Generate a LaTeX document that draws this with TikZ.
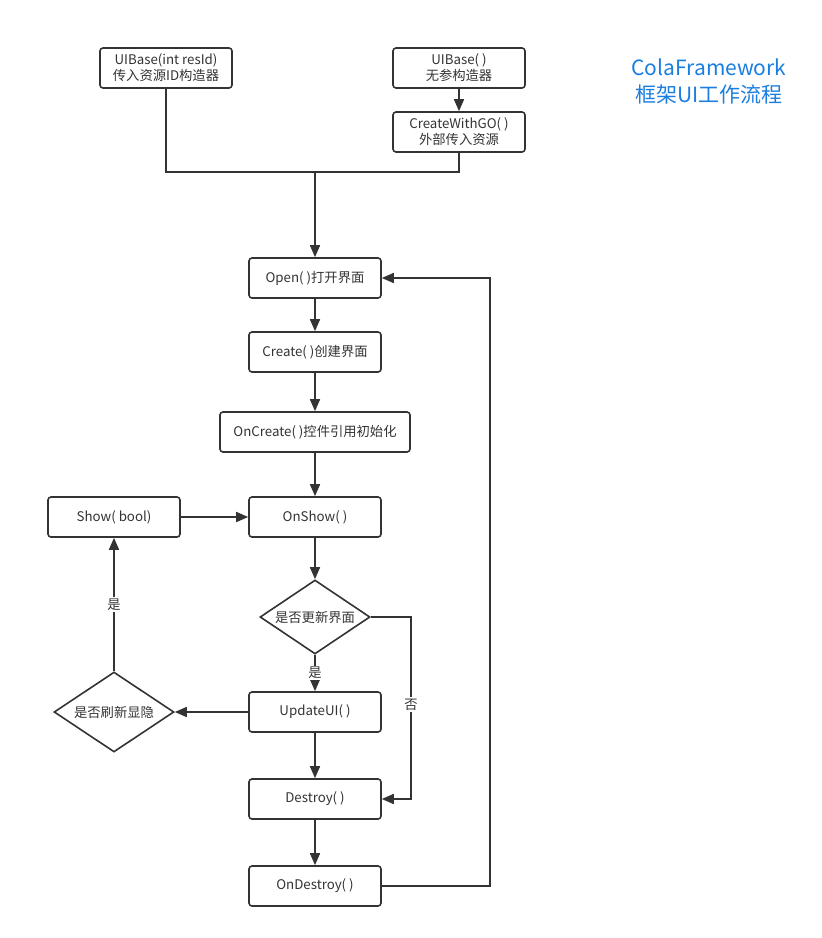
\documentclass[tikz,border=0pt]{standalone}
\usepackage{fontspec}
\setmainfont{Noto Sans CJK SC}
\usetikzlibrary{shapes.geometric,arrows.meta}
\definecolor{ln}{HTML}{333333}
\definecolor{titleblue}{HTML}{1A7EE0}
\tikzset{
  box/.style={draw=ln, line width=1.6pt, rounded corners=3pt, minimum width=132pt, minimum height=40pt, inner sep=0pt, align=center, font=\fontsize{13.3}{16}\selectfont, text=ln},
  choice/.style={draw=ln, line width=1.6pt, diamond, aspect=1.5, inner sep=0pt, font=\fontsize{13.3}{16}\selectfont, text=ln},
  flow/.style={draw=ln, line width=1.6pt, -{Triangle[length=12pt,width=10pt]}},
  wire/.style={draw=ln, line width=1.6pt},
  tag/.style={fill=white, inner sep=1.5pt, font=\fontsize{13.3}{16}\selectfont, text=ln}
}
\begin{document}
\begin{tikzpicture}[x=1pt,y=-1pt]
\useasboundingbox (0,0) rectangle (822,938);
% constructors
\node[box] (base) at (166,68) {UIBase(int resId)\\传入资源ID构造器};
\node[box] (empty) at (459,68) {UIBase( )\\无参构造器};
\node[box] (withgo) at (459,132) {CreateWithGO( )\\外部传入资源};
\coordinate (join) at (315,172);
% main flow
\node[box] (open) at (315,278) {Open( )打开界面};
\node[box] (create) at (315,352) {Create( )创建界面};
\node[box, minimum width=190pt] (oncreate) at (315,432) {OnCreate( )控件引用初始化};
\node[box] (onshow) at (315,517) {OnShow( )};
\node[box] (show) at (114,517) {Show( bool)};
\node[choice, minimum width=110pt, minimum height=74pt] (update?) at (315,617) {是否更新界面};
\node[box] (updateui) at (315,712) {UpdateUI( )};
\node[choice, minimum width=120pt, minimum height=80pt] (visible?) at (114,712) {是否刷新显隐};
\node[box] (destroy) at (315,799) {Destroy( )};
\node[box] (ondestroy) at (315,886) {OnDestroy( )};
\node[align=center, text=titleblue, font=\fontsize{21}{27}\selectfont] (title) at (709,81) {ColaFramework\\框架UI工作流程};

\draw[flow] (empty) -- (withgo);
\draw[wire] (base) |- (join) -| (withgo);
\draw[flow] (join) -- (open);
\draw[flow] (open) -- (create);
\draw[flow] (create) -- (oncreate);
\draw[flow] (oncreate) -- (onshow);
\draw[flow] (show) -- (onshow);
\draw[flow] (onshow) -- (update?);
\draw[flow] (update?) -- node[tag] {是} (updateui);
\draw[flow] (update?.east) -| (411,799) node[tag, pos=0.74] {否} -- (destroy);
\draw[flow] (updateui) -- (visible?);
\draw[flow] (visible?) -- node[tag] {是} (show);
\draw[flow] (updateui) -- (destroy);
\draw[flow] (destroy) -- (ondestroy);
\draw[flow] (ondestroy.east) -| (490,278) -- (open.east);
\end{tikzpicture}
\end{document}
